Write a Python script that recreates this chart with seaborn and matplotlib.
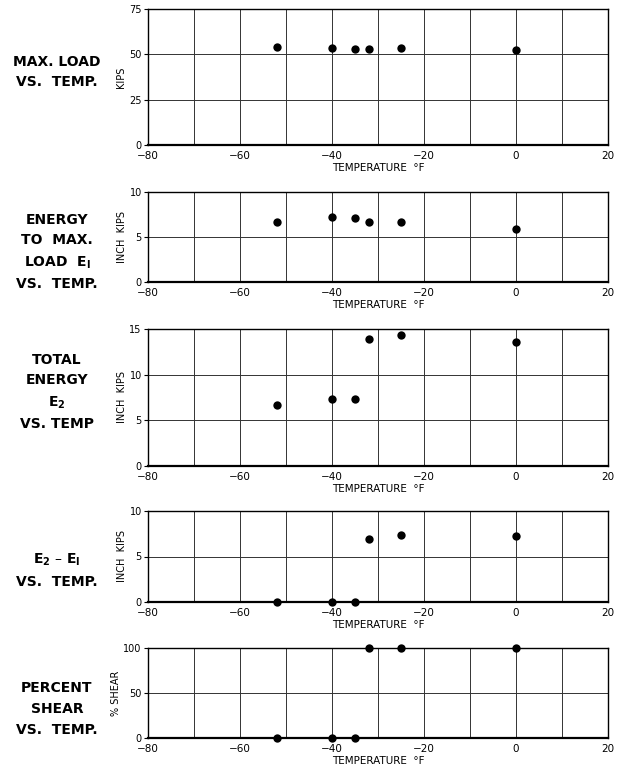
import matplotlib
matplotlib.use("Agg")
import matplotlib.pyplot as plt
import seaborn as sns
import pandas as pd

sns.set_theme(style="white")
plt.rcParams['font.family'] = ['DejaVu Sans']
plt.rcParams['text.color'] = 'black'
plt.rcParams['axes.labelcolor'] = 'black'
plt.rcParams['xtick.color'] = 'black'
plt.rcParams['ytick.color'] = 'black'

# ---- data ----
temperature_f = [-52, -40, -35, -32, -25, 0]
max_load_kips = [53.8, 53.4, 53.0, 53.0, 53.3, 52.5]
energy_e1 = [6.7, 7.2, 7.1, 6.7, 6.7, 5.9]
energy_e2 = [6.7, 7.3, 7.3, 13.9, 14.3, 13.6]
e2_minus_e1 = [0.0, 0.0, 0.0, 6.9, 7.4, 7.2]
percent_shear = [0, 0, 0, 100, 100, 100]

x_ticks = [-80, -60, -40, -20, 0, 20]
panel_titles = [
    "MAX. LOAD\nVS.  TEMP.",
    "ENERGY\nTO  MAX.\nLOAD  E$_\\mathbf{I}$\nVS.  TEMP.",
    "TOTAL\nENERGY\nE$_\\mathbf{2}$\nVS. TEMP",
    "E$_\\mathbf{2}$ – E$_\\mathbf{I}$\nVS.  TEMP.",
    "PERCENT\nSHEAR\nVS.  TEMP.",
]
y_labels = ["KIPS", "INCH  KIPS", "INCH  KIPS", "INCH  KIPS", "% SHEAR"]
y_ticks = [[0, 25, 50, 75], [0, 5, 10], [0, 5, 10, 15], [0, 5, 10], [0, 50, 100]]
series = [max_load_kips, energy_e1, energy_e2, e2_minus_e1, percent_shear]

df = pd.DataFrame({"temp": temperature_f})

fig = plt.figure(figsize=(6.29, 7.71), dpi=100)
W, H = 629, 771
left_px, right_px = 148, 608
# (top, bottom) pixel rows of each panel
panel_rows = [(9, 145), (192, 282), (329, 466), (511, 602), (648, 738)]
title_y = [72, 252, 392, 570, 709]

for i, (vals, (t, b)) in enumerate(zip(series, panel_rows)):
    ax = fig.add_axes([left_px / W, 1 - b / H, (right_px - left_px) / W, (b - t) / H])
    d = df.copy()
    d["val"] = vals
    ax.set_xlim(-80, 20)
    ax.set_ylim(y_ticks[i][0], y_ticks[i][-1])
    # grid
    for gx in range(-70, 20, 10):
        ax.axvline(gx, color="#333333", lw=0.7, zorder=1)
    for gy in y_ticks[i][1:-1]:
        ax.axhline(gy, color="#333333", lw=0.7, zorder=1)
    sns.scatterplot(data=d, x="temp", y="val", ax=ax, color="black", s=36,
                    edgecolor="black", linewidth=0, zorder=5, clip_on=False)
    ax.set_xticks(x_ticks)
    ax.set_xticklabels([str(v) if v >= 0 else "−" + str(-v) for v in x_ticks], fontsize=7.5)
    ax.set_yticks(y_ticks[i])
    ax.set_yticklabels([str(v) for v in y_ticks[i]], fontsize=7)
    ax.tick_params(axis="both", direction="out", length=3, width=0.8, pad=1.5,
                   colors="black", left=True, bottom=False)
    ax.set_xlabel("TEMPERATURE  °F", fontsize=7.5, labelpad=1, color="black")
    ax.set_ylabel(y_labels[i], fontsize=7, labelpad=2, color="black")
    for sp in ax.spines.values():
        sp.set_color("black")
        sp.set_linewidth(1.0)
    ax.spines["bottom"].set_linewidth(1.6)
    fig.text(57 / W, 1 - title_y[i] / H, panel_titles[i], ha="center", va="center",
             fontsize=10, fontweight="bold", linespacing=1.6, color="black")

fig.savefig("out.png", dpi=100, facecolor="white")
